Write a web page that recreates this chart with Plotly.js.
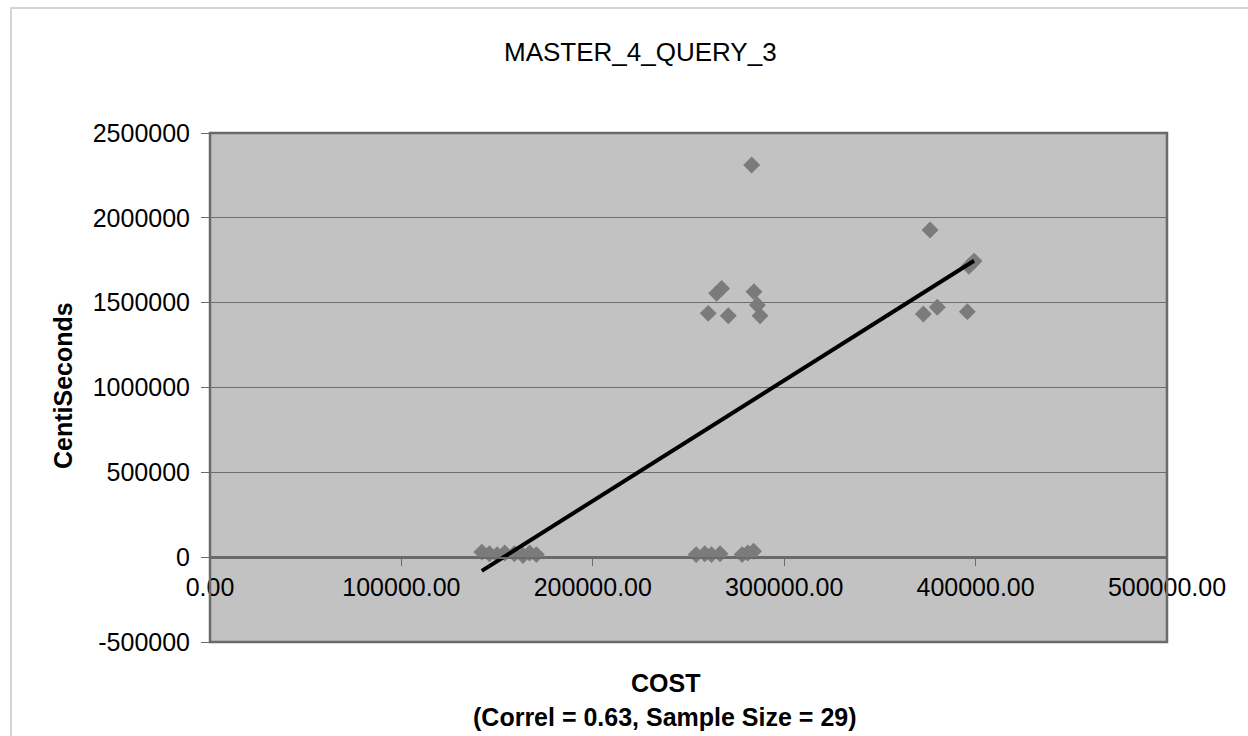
<!DOCTYPE html>
<html>
<head>
<meta charset="utf-8">
<script src="https://cdn.plot.ly/plotly-3.0.1.min.js"></script>
<style>
  html, body { margin: 0; padding: 0; background: #ffffff; }
  #frame { position: absolute; left: 10px; top: 7px; width: 1260px; height: 760px; border: 2px solid #d4d4d4; box-sizing: border-box; }
  #chart { position: absolute; left: 0; top: 0; width: 1248px; height: 736px; }
</style>
</head>
<body>
<div id="frame"></div>
<div id="chart"></div>
<script>
// ---- data ----
const chartTitle = "MASTER_4_QUERY_3";
const xTitle = "COST";
const xSubtitle = "(Correl = 0.63, Sample Size = 29)";
const yTitle = "CentiSeconds";

const cost = [
  142000, 146000, 150000, 154000, 159000, 163500, 167000, 170500,
  254000, 258500, 262000, 266500, 278000, 281000, 284000,
  260300, 264700, 267300, 270800, 283000, 284200, 286000, 287400,
  372700, 376200, 380000, 395700, 396500, 399200
];
const centiSeconds = [
  30000, 20000, 15000, 25000, 20000, 10000, 25000, 15000,
  15000, 20000, 15000, 20000, 15000, 25000, 35000,
  1437000, 1555000, 1584000, 1423000, 2311000, 1564000, 1486000, 1423000,
  1433000, 1928000, 1473000, 1447000, 1715000, 1745000
];

const xTickVals = [0, 100000, 200000, 300000, 400000, 500000];
const xTickText = ["0.00", "100000.00", "200000.00", "300000.00", "400000.00", "500000.00"];
const yTickVals = [-500000, 0, 500000, 1000000, 1500000, 2000000, 2500000];
const yTickText = ["-500000", "0", "500000", "1000000", "1500000", "2000000", "2500000"];

// ---- least-squares trendline derived from the data ----
const n = cost.length;
const mx = cost.reduce((a, b) => a + b, 0) / n;
const my = centiSeconds.reduce((a, b) => a + b, 0) / n;
let sxy = 0, sxx = 0;
for (let i = 0; i < n; i++) { sxy += (cost[i] - mx) * (centiSeconds[i] - my); sxx += (cost[i] - mx) ** 2; }
const slope = sxy / sxx, intercept = my - slope * mx;
const xMin = Math.min(...cost), xMax = Math.max(...cost);
const trendX = [xMin, xMax];
const trendY = trendX.map(v => intercept + slope * v);

const FONT = "Liberation Sans, Arial, sans-serif";

const traces = [
  {
    type: "scatter", mode: "markers", x: cost, y: centiSeconds,
    marker: { symbol: "diamond", size: 13, color: "#7b7b7b", line: { width: 0 } },
    hoverinfo: "x+y", showlegend: false
  },
  {
    type: "scatter", mode: "lines", x: trendX, y: trendY,
    line: { color: "#000000", width: 4 }, showlegend: false, hoverinfo: "skip"
  }
];

const layout = {
  width: 1248, height: 736,
  margin: { l: 210, r: 81, t: 133, b: 94 },
  paper_bgcolor: "rgba(0,0,0,0)",
  plot_bgcolor: "#c2c2c2",
  font: { family: FONT, color: "#000000", size: 24 },
  showlegend: false,
  xaxis: {
    range: [0, 500000], tickvals: xTickVals, ticktext: xTickText,
    anchor: "free", position: 1 / 6,
    showgrid: false, zeroline: false,
    showline: true, linecolor: "#6a6a6a", linewidth: 1.5,
    ticks: "outside", ticklen: 7, tickcolor: "#6a6a6a", tickwidth: 1,
    tickfont: { family: FONT, size: 25, color: "#000" },
    fixedrange: true
  },
  yaxis: {
    range: [-500000, 2500000], tickvals: yTickVals, ticktext: yTickText,
    showgrid: true, gridcolor: "#6e6e6e", gridwidth: 1,
    zeroline: true, zerolinecolor: "#6a6a6a", zerolinewidth: 1.5,
    showline: false,
    ticks: "outside", ticklen: 8, tickcolor: "#6a6a6a", tickwidth: 1,
    ticklabelstandoff: 6,
    tickfont: { family: FONT, size: 25, color: "#000" },
    fixedrange: true
  },
  shapes: [
    { type: "rect", xref: "paper", yref: "paper", x0: 0, x1: 1, y0: 0, y1: 1,
      line: { color: "#6a6a6a", width: 2.5 }, layer: "above" }
  ],
  annotations: [
    { text: chartTitle, xref: "paper", yref: "paper", x: (640 - 210) / 957, y: 1 + (133 - 52) / 509,
      showarrow: false, xanchor: "center", yanchor: "middle",
      font: { family: FONT, size: 26, color: "#000" } },
    { text: "<b>" + xTitle + "</b>", xref: "paper", yref: "paper", x: (665 - 210) / 957, y: -(683 - 642) / 509,
      showarrow: false, xanchor: "center", yanchor: "middle",
      font: { family: FONT, size: 25, color: "#000" } },
    { text: "<b>" + xSubtitle + "</b>", xref: "paper", yref: "paper", x: (665 - 210) / 957, y: -(717 - 642) / 509,
      showarrow: false, xanchor: "center", yanchor: "middle",
      font: { family: FONT, size: 25, color: "#000" } },
    { text: "<b>" + yTitle + "</b>", xref: "paper", yref: "paper", x: -(210 - 63) / 957, y: (642 - 386) / 509,
      showarrow: false, xanchor: "center", yanchor: "middle", textangle: -90,
      font: { family: FONT, size: 25, color: "#000" } }
  ]
};

Plotly.newPlot("chart", traces, layout, { displayModeBar: false, staticPlot: true });
</script>
</body>
</html>
